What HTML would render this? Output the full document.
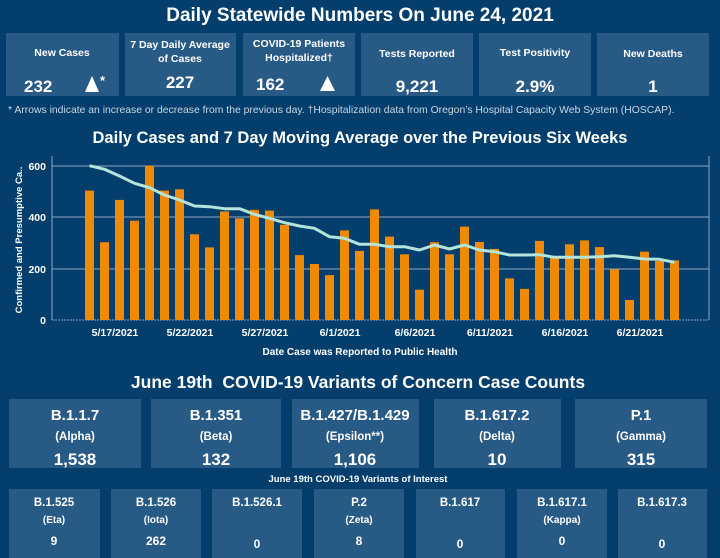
<!DOCTYPE html>
<html><head><meta charset="utf-8"><style>
html,body{margin:0;padding:0;width:720px;height:558px;overflow:hidden;background:#033e6c;}
svg{display:block;font-family:"Liberation Sans",sans-serif;font-weight:bold;}
</style></head><body>
<svg width="720" height="558" viewBox="0 0 720 558" xmlns="http://www.w3.org/2000/svg">
<rect width="720" height="558" fill="#033e6c"/>
<g fill="#fff" text-anchor="middle">
<text x="360" y="21" font-size="19">Daily Statewide Numbers On June 24, 2021</text>
</g>
<g fill="#285a86">
<rect x="6" y="33" width="113" height="63"/>
<rect x="125" y="33" width="111" height="63"/>
<rect x="243" y="33" width="112" height="63"/>
<rect x="361" y="33" width="112" height="63"/>
<rect x="479" y="33" width="112" height="63"/>
<rect x="597" y="33" width="112" height="63"/>
</g>
<g fill="#fff" text-anchor="middle" font-size="10.5">
<text x="62" y="56">New Cases</text>
<text x="180" y="48">7 Day Daily Average</text>
<text x="180" y="62">of Cases</text>
<text x="299" y="47">COVID-19 Patients</text>
<text x="299" y="61">Hospitalized†</text>
<text x="417" y="57">Tests Reported</text>
<text x="535" y="56">Test Positivity</text>
<text x="653" y="57">New Deaths</text>
</g>
<g fill="#fff" font-size="17">
<text x="24" y="92">232</text>
<text x="180" y="88" text-anchor="middle">227</text>
<text x="256" y="90">162</text>
<text x="417" y="92" text-anchor="middle">9,221</text>
<text x="535" y="92" text-anchor="middle">2.9%</text>
<text x="653" y="92" text-anchor="middle">1</text>
</g>
<polygon points="85,92 99,92 92,76" fill="#fff"/>
<text x="100" y="85" fill="#fff" font-size="13">*</text>
<polygon points="320,91 335,91 327.5,76" fill="#fff"/>
<text x="8" y="113" fill="#c9d6e3" font-size="10.4" font-weight="normal">* Arrows indicate an increase or decrease from the previous day. †Hospitalization data from Oregon’s Hospital Capacity Web System (HOSCAP).</text>

<text x="360" y="143" fill="#fff" font-size="16.5" text-anchor="middle">Daily Cases and 7 Day Moving Average over the Previous Six Weeks</text>

<g stroke="#8ea6bf" stroke-width="1">
<line x1="52" y1="166" x2="709" y2="166"/>
<line x1="52" y1="217" x2="709" y2="217"/>
<line x1="52" y1="269" x2="709" y2="269"/>
<line x1="52" y1="320" x2="709" y2="320" stroke-dasharray="2,1"/>
<line x1="52" y1="156" x2="52" y2="320"/>
<line x1="709" y1="156" x2="709" y2="320"/>
</g>
<g fill="#fff" font-size="10.5" text-anchor="end">
<text x="46" y="170">600</text>
<text x="46" y="221">400</text>
<text x="46" y="273">200</text>
<text x="46" y="324">0</text>
</g>
<text transform="translate(22,240) rotate(-90)" fill="#fff" font-size="9.5" text-anchor="middle">Confirmed and Presumptive Ca..</text>
<g fill="#ee8a05">
<rect x="85" y="190.6" width="9" height="129.4"/>
<rect x="100" y="242.2" width="9" height="77.8"/>
<rect x="115" y="199.9" width="9" height="120.1"/>
<rect x="130" y="220.7" width="9" height="99.3"/>
<rect x="145" y="165.7" width="9" height="154.3"/>
<rect x="160" y="190.6" width="9" height="129.4"/>
<rect x="175" y="189.3" width="9" height="130.7"/>
<rect x="190" y="234.3" width="9" height="85.7"/>
<rect x="205" y="247.4" width="9" height="72.6"/>
<rect x="220" y="211.4" width="9" height="108.6"/>
<rect x="235" y="218.3" width="9" height="101.7"/>
<rect x="250" y="209.9" width="9" height="110.1"/>
<rect x="265" y="210.6" width="9" height="109.4"/>
<rect x="280" y="224.8" width="9" height="95.2"/>
<rect x="295" y="255.1" width="9" height="64.9"/>
<rect x="310" y="264" width="9" height="56"/>
<rect x="325" y="275.1" width="9" height="44.9"/>
<rect x="340" y="230.4" width="9" height="89.6"/>
<rect x="355" y="250.9" width="9" height="69.1"/>
<rect x="370" y="209.4" width="9" height="110.6"/>
<rect x="385" y="236.6" width="9" height="83.4"/>
<rect x="400" y="254.3" width="9" height="65.7"/>
<rect x="415" y="289.7" width="9" height="30.3"/>
<rect x="430" y="242.2" width="9" height="77.8"/>
<rect x="445" y="254.3" width="9" height="65.7"/>
<rect x="460" y="226.6" width="9" height="93.4"/>
<rect x="475" y="242" width="9" height="78"/>
<rect x="490" y="248.9" width="9" height="71.1"/>
<rect x="505" y="278.4" width="9" height="41.6"/>
<rect x="520" y="288.9" width="9" height="31.1"/>
<rect x="535" y="240.9" width="9" height="79.1"/>
<rect x="550" y="256.6" width="9" height="63.4"/>
<rect x="565" y="244.3" width="9" height="75.7"/>
<rect x="580" y="240.4" width="9" height="79.6"/>
<rect x="595" y="247.1" width="9" height="72.9"/>
<rect x="610" y="269.4" width="9" height="50.6"/>
<rect x="625" y="300" width="9" height="20"/>
<rect x="640" y="251.7" width="9" height="68.3"/>
<rect x="655" y="261" width="9" height="59"/>
<rect x="670" y="260.4" width="9" height="59.6"/>
</g>
<polyline fill="none" stroke="#b4e4dc" stroke-width="3" stroke-linejoin="round" points="89.5,165.7 104.5,169.3 119.5,176 134.5,183.3 149.5,187.7 164.5,195 179.5,200 194.5,206 209.5,206.7 224.5,208.7 239.5,208.7 254.5,214.3 269.5,218.3 284.5,222.7 299.5,226 314.5,228.3 329.5,236.7 344.5,238.3 359.5,244.3 374.5,244.3 389.5,246.7 404.5,246.7 419.5,250 434.5,245 449.5,249 464.5,245 479.5,250 494.5,251.7 509.5,255 524.5,255 539.5,254.7 554.5,257.3 569.5,257.3 584.5,257.3 599.5,256.7 614.5,255.7 629.5,257.3 644.5,259 659.5,259.3 674.5,262.3"/>
<g fill="#fff" font-size="10.5" text-anchor="middle">
<text x="115" y="336">5/17/2021</text>
<text x="190" y="336">5/22/2021</text>
<text x="265" y="336">5/27/2021</text>
<text x="340" y="336">6/1/2021</text>
<text x="415" y="336">6/6/2021</text>
<text x="490" y="336">6/11/2021</text>
<text x="565" y="336">6/16/2021</text>
<text x="640" y="336">6/21/2021</text>
<text x="360" y="355" font-size="10">Date Case was Reported to Public Health</text>
</g>

<text x="358" y="388" fill="#fff" font-size="17.5" text-anchor="middle" xml:space="preserve">June 19th  COVID-19 Variants of Concern Case Counts</text>
<g fill="#285a86">
<rect x="9" y="399" width="132" height="69"/>
<rect x="151" y="399" width="130" height="69"/>
<rect x="292" y="399" width="127" height="69"/>
<rect x="434" y="399" width="127" height="69"/>
<rect x="575" y="399" width="132" height="69"/>
<rect x="9" y="489" width="91" height="69"/>
<rect x="111" y="489" width="90" height="69"/>
<rect x="212" y="489" width="90" height="69"/>
<rect x="314" y="489" width="90" height="69"/>
<rect x="416" y="489" width="89" height="69"/>
<rect x="517" y="489" width="90" height="69"/>
<rect x="618" y="489" width="89" height="69"/>
</g>
<g fill="#fff" text-anchor="middle">
<g font-size="15">
<text x="75" y="420">B.1.1.7</text>
<text x="216" y="420">B.1.351</text>
<text x="355" y="420">B.1.427/B.1.429</text>
<text x="497" y="420">B.1.617.2</text>
<text x="641" y="420">P.1</text>
</g>
<g font-size="11.5">
<text x="75" y="440">(Alpha)</text>
<text x="216" y="440">(Beta)</text>
<text x="355" y="440">(Epsilon**)</text>
<text x="497" y="440">(Delta)</text>
<text x="641" y="440">(Gamma)</text>
</g>
<g font-size="17">
<text x="75" y="465">1,538</text>
<text x="216" y="465">132</text>
<text x="355" y="465">1,106</text>
<text x="497" y="465">10</text>
<text x="641" y="465">315</text>
</g>
<text x="358" y="482" font-size="9.5">June 19th COVID-19 Variants of Interest</text>
<g font-size="11.5">
<text x="54" y="506">B.1.525</text>
<text x="156" y="506">B.1.526</text>
<text x="257" y="506">B.1.526.1</text>
<text x="359" y="506">P.2</text>
<text x="460" y="506">B.1.617</text>
<text x="562" y="506">B.1.617.1</text>
<text x="662" y="506">B.1.617.3</text>
</g>
<g font-size="10">
<text x="54" y="523">(Eta)</text>
<text x="156" y="523">(Iota)</text>
<text x="359" y="523">(Zeta)</text>
<text x="562" y="523">(Kappa)</text>
</g>
<g font-size="12">
<text x="54" y="545">9</text>
<text x="156" y="545">262</text>
<text x="257" y="548">0</text>
<text x="359" y="545">8</text>
<text x="460" y="548">0</text>
<text x="562" y="545">0</text>
<text x="662" y="548">0</text>
</g>
</g>
</svg>
</body></html>
